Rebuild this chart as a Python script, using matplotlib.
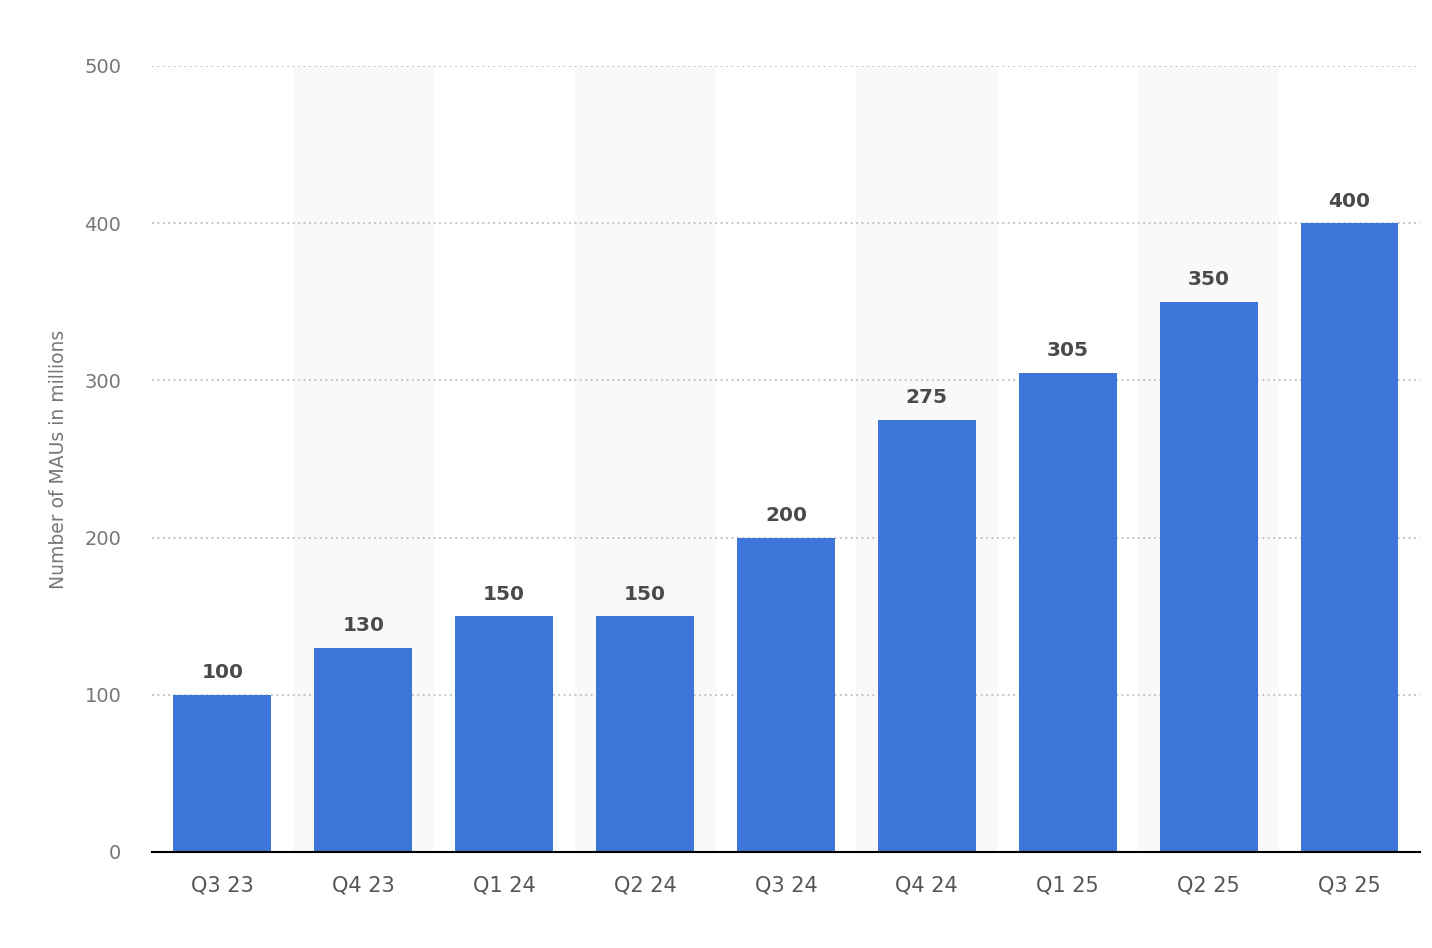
# MAUs per quarter, bar chart

import numpy as np
import matplotlib
matplotlib.use("Agg")
import matplotlib.pyplot as plt

quarters = ["Q3 23", "Q4 23", "Q1 24", "Q2 24", "Q3 24", "Q4 24", "Q1 25", "Q2 25", "Q3 25"]
maus = [100, 130, 150, 150, 200, 275, 305, 350, 400]
yticks = [0, 100, 200, 300, 400, 500]

plt.rcParams['font.family'] = ['DejaVu Sans']

fig = plt.figure(figsize=(14.32, 9.48), dpi=100, facecolor='white')
ax = fig.add_axes([0.1061, 0.1013, 0.8855, 0.8291])

x = np.arange(len(quarters))

# alternate shaded bands
for i in x:
    if i % 2 == 1:
        ax.axvspan(i - 0.5, i + 0.5, color='#f9f9f9', zorder=0, lw=0)

ax.bar(x, maus, width=0.695, color='#3e75d8', zorder=3)

for xi, v in zip(x, maus):
    ax.text(xi, v + 8, str(v), ha='center', va='bottom', fontsize=14.5,
            fontweight='bold', color='#4a4a4a', zorder=4)

ax.set_xlim(-0.5, len(quarters) - 0.5)
ax.set_ylim(0, 500)
ax.set_yticks(yticks)
ax.set_xticks(x)
ax.set_xticklabels(quarters)

ax.yaxis.grid(True, linestyle=(0, (1, 2)), color='#bdbdbd', linewidth=1.3, zorder=1)
ax.set_axisbelow(True)

for s in ['top', 'right', 'left']:
    ax.spines[s].set_visible(False)
ax.spines['bottom'].set_color('black')
ax.spines['bottom'].set_linewidth(1.5)
ax.spines['bottom'].set_zorder(5)

ax.tick_params(axis='y', length=0, pad=22, labelsize=14, labelcolor='#777777')
ax.tick_params(axis='x', length=0, pad=17, labelsize=15, labelcolor='#555555')

ax.set_ylabel("Number of MAUs in millions", fontsize=13.5, color='#777777', labelpad=12)

fig.savefig("out.png", dpi=100)
